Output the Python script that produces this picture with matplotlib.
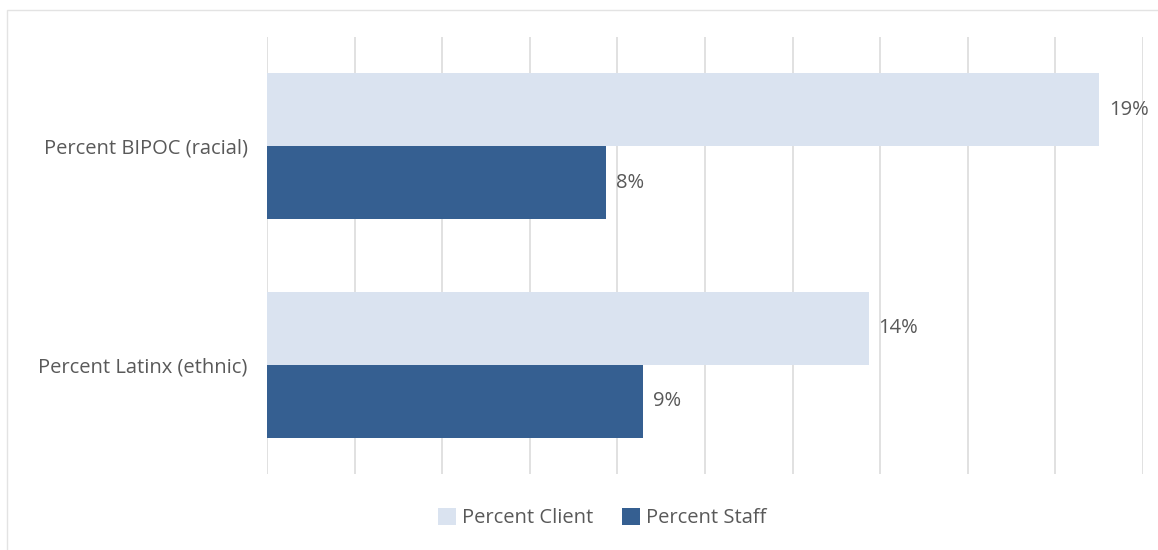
import matplotlib
matplotlib.use("Agg")
import matplotlib.pyplot as plt
from matplotlib.patches import Rectangle
import numpy as np

plt.rcParams['font.family'] = ['Open Sans', 'DejaVu Sans']

categories = ["Percent BIPOC (racial)", "Percent Latinx (ethnic)"]
series_names = ["Percent Client", "Percent Staff"]
client_values = [19.0, 13.74]
staff_values = [7.75, 8.58]
colors = ["#DAE3F0", "#355F91"]
text_color = "#595959"
grid_color = "#D9D9D9"
fs = 14.5

W, H = 1158, 550
fig = plt.figure(figsize=(W / 100, H / 100), dpi=100)

# light outer frame around the chart area
fig.patches.append(Rectangle((7 / W, -0.1), 1.2, 1 - 10 / H + 0.1,
                             transform=fig.transFigure, fill=False,
                             edgecolor="#E3E3E3", linewidth=1.0, zorder=0))

ax = fig.add_axes([267 / W, 1 - 474 / H, (1143 - 267) / W, (474 - 37) / H])

y = np.arange(len(categories))
h = 1 / 3
b1 = ax.barh(y - h / 2, client_values, height=h, color=colors[0], label=series_names[0], zorder=2)
b2 = ax.barh(y + h / 2, staff_values, height=h, color=colors[1], label=series_names[1], zorder=2)

for bars, vals in ((b1, client_values), (b2, staff_values)):
    for bar, v in zip(bars, vals):
        ax.annotate(f"{v:.0f}%", (bar.get_width(), bar.get_y() + bar.get_height() / 2),
                    xytext=(7, 0), textcoords="offset points", ha="left", va="center",
                    fontsize=fs, color=text_color)

ax.set_xlim(0, 20)
ax.set_ylim(len(categories) - 0.5, -0.5)
ax.set_xticks(np.arange(0, 21, 2))
ax.set_xticklabels([])
ax.tick_params(axis="x", length=0)
ax.tick_params(axis="y", length=0, pad=14, labelsize=fs, labelcolor=text_color)
ax.set_yticks(y)
ax.set_yticklabels(categories)
ax.grid(axis="x", color=grid_color, linewidth=1.1, zorder=0)
for s in ax.spines.values():
    s.set_visible(False)

fig.legend(handles=[b1, b2], labels=series_names, loc="center",
           bbox_to_anchor=(602 / W, 1 - 518 / H), ncol=2, frameon=False,
           fontsize=fs, labelcolor=text_color, handlelength=0.9, handleheight=0.9,
           handletextpad=0.3, columnspacing=1.4)

fig.savefig("out.png", dpi=100)
